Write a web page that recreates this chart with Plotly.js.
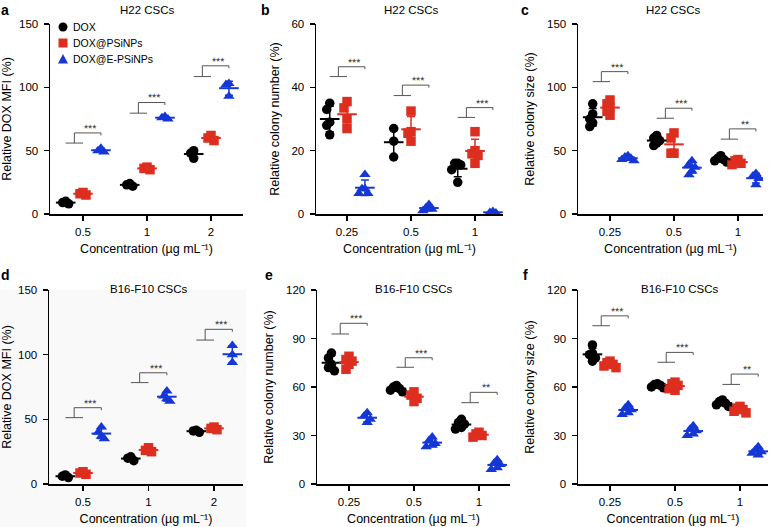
<!DOCTYPE html>
<html><head><meta charset="utf-8">
<script src="https://cdn.plot.ly/plotly-3.0.1.min.js"></script>
<style>html,body{margin:0;padding:0;background:#fff}#chart{width:772px;height:527px}</style>
</head><body><div id="chart"></div>
<script>
// ---------------- DATA ----------------
const seriesNames = ['DOX', 'DOX@PSiNPs', 'DOX@E-PSiNPs'];
const catsMFI = ['0.5', '1', '2'];
const catsColony = ['0.25', '0.5', '1'];

// a: H22 CSCs, Relative DOX MFI (%)
const a_DOX = [[8, 9, 10], [22, 23, 24], [44, 48, 50]];
const a_PSi = [[15, 16, 17], [35, 36, 37], [58, 60, 62]];
const a_E   = [[49, 50, 52], [75, 76, 77], [93, 102, 103]];
const a_brLow = [56, 79.6, 108.5];
const a_brHigh = [64, 88, 117];
const a_sig = ['***', '***', '***'];

// b: H22 CSCs, Relative colony number (%)
const b_DOX = [[33, 35, 29, 28, 25], [27, 23, 18], [16, 15.5, 16, 10, 14]];
const b_PSi = [[35.5, 33.5, 30, 27], [32.5, 26, 25.5, 23], [26, 20, 18.5, 16, 19]];
const b_E   = [[12.5, 8, 8, 6.5, 6.5], [3, 2, 1.5, 1], [0.8, 0.5, 0.3]];
const b_brLow = [43.4, 37.4, 30.5];
const b_brHigh = [46.5, 40.7, 33.6];
const b_sig = ['***', '***', '***'];

// c: H22 CSCs, Relative colony size (%)
const c_DOX = [[87, 79, 75, 72, 69], [62, 60, 58, 56, 54], [46, 44, 43, 42, 41]];
const c_PSi = [[90, 87, 84, 81, 78], [64, 60, 48, 48], [43, 42, 40, 39]];
const c_E   = [[46, 45, 44, 43, 42], [42, 39, 37, 34, 31], [32, 30, 28, 23]];
const c_brLow = [104.5, 75.6, 59.1];
const c_brHigh = [112.4, 83.5, 67.2];
const c_sig = ['***', '***', '**'];

// d: B16-F10 CSCs, Relative DOX MFI (%)
const d_DOX = [[5, 6, 7], [18, 20, 21], [40, 41, 41.5]];
const d_PSi = [[7.5, 8.5, 9.5], [25, 26, 28], [42, 43, 44]];
const d_E   = [[44, 40, 37, 35], [72, 68, 66, 64], [107, 100, 94]];
const d_brLow = [51.3, 78.4, 111.3];
const d_brHigh = [59, 86, 119.6];
const d_sig = ['***', '***', '***'];

// e: B16-F10 CSCs, Relative colony number (%)
const e_DOX = [[81, 78, 74, 72, 70], [61, 60, 59, 58, 57], [40, 38, 37, 35, 34]];
const e_PSi = [[79, 77, 76, 74, 71], [57, 55, 53, 51], [32, 31, 30, 29]];
const e_E   = [[44, 42, 40, 38], [29, 27, 25, 24, 23], [15, 13, 12, 10, 9]];
const e_brLow = [92.8, 72.2, 50.3];
const e_brHigh = [99.4, 78.1, 56.7];
const e_sig = ['***', '***', '**'];

// f: B16-F10 CSCs, Relative colony size (%)
const f_DOX = [[86, 81, 80, 78, 76], [62, 61.5, 61, 60, 59.5], [52, 51, 50, 49, 48]];
const f_PSi = [[76, 75, 74, 73, 72], [63, 62, 61, 59, 58], [48, 47, 46, 45, 44]];
const f_E   = [[49, 47, 46, 44, 43], [36, 34, 33, 31, 30], [23, 21, 20, 19, 18]];
const f_brLow = [97.9, 75.3, 61.6];
const f_brHigh = [104, 81.4, 68];
const f_sig = ['***', '***', '**'];

// ---------------- STYLE / LAYOUT ----------------
const W = 772, H = 527;
const FONT = 'Liberation Sans, Arial, Helvetica, sans-serif';
const colors = ['#000000', '#dd2e1f', '#1537d6'];
const symbols = ['circle', 'square', 'triangle-up'];
const offsets = [-0.27, 0, 0.28];
const xTitle = 'Concentration (µg mL⁻¹)';

const panels = [
  {letter: 'a', title: 'H22 CSCs', ytitle: 'Relative DOX MFI (%)', cats: catsMFI, series: [a_DOX, a_PSi, a_E], lo: a_brLow, hi: a_brHigh, sig: a_sig,
   yr: [0, 150], dtick: 50, x0: 50, x1: 243, t0: 83, t2: 211, yt: 24, yb: 214, titleX: 147, titleY: 10, letX: 5, letY: 10},
  {letter: 'b', title: 'H22 CSCs', ytitle: 'Relative colony number (%)', cats: catsColony, series: [b_DOX, b_PSi, b_E], lo: b_brLow, hi: b_brHigh, sig: b_sig,
   yr: [0, 60], dtick: 20, x0: 316, x1: 503, t0: 347, t2: 475, yt: 24, yb: 214, titleX: 411, titleY: 10, letX: 265, letY: 10},
  {letter: 'c', title: 'H22 CSCs', ytitle: 'Relative colony size (%)', cats: catsColony, series: [c_DOX, c_PSi, c_E], lo: c_brLow, hi: c_brHigh, sig: c_sig,
   yr: [0, 150], dtick: 50, x0: 578, x1: 763, t0: 610, t2: 738, yt: 24, yb: 214, titleX: 673, titleY: 10, letX: 525, letY: 10},
  {letter: 'd', title: 'B16-F10 CSCs', ytitle: 'Relative DOX MFI (%)', cats: catsMFI, series: [d_DOX, d_PSi, d_E], lo: d_brLow, hi: d_brHigh, sig: d_sig,
   yr: [0, 150], dtick: 50, x0: 49, x1: 243, t0: 83, t2: 214, yt: 290, yb: 484, titleX: 149, titleY: 289, letX: 5, letY: 275},
  {letter: 'e', title: 'B16-F10 CSCs', ytitle: 'Relative colony number (%)', cats: catsColony, series: [e_DOX, e_PSi, e_E], lo: e_brLow, hi: e_brHigh, sig: e_sig,
   yr: [0, 120], dtick: 30, x0: 317, x1: 510, t0: 349, t2: 479, yt: 290, yb: 484, titleX: 414, titleY: 289, letX: 269, letY: 275},
  {letter: 'f', title: 'B16-F10 CSCs', ytitle: 'Relative colony size (%)', cats: catsColony, series: [f_DOX, f_PSi, f_E], lo: f_brLow, hi: f_brHigh, sig: f_sig,
   yr: [0, 120], dtick: 30, x0: 578, x1: 768, t0: 610, t2: 740, yt: 290, yb: 484, titleX: 680, titleY: 289, letX: 525, letY: 275}
];

const mean = a => a.reduce((s, v) => s + v, 0) / a.length;
const sd = a => { const m = mean(a); return Math.sqrt(a.reduce((s, v) => s + (v - m) * (v - m), 0) / (a.length - 1)); };

// Prism-like horizontal spreading of overlapping points (returns offsets in category units)
function spread(vals, sx, sy) {
  const idx = vals.map((v, i) => i).sort((p, q) => vals[q] - vals[p]);
  const placed = [];
  const out = new Array(vals.length).fill(0);
  const step = 3, D = 7;
  for (const i of idx) {
    const ypx = vals[i] * sy;
    for (let k = 0; k < 11; k++) {
      const slot = k === 0 ? 0 : (k % 2 ? -Math.ceil(k / 2) : Math.ceil(k / 2));
      if (placed.every(p => p.slot !== slot || Math.abs(p.y - ypx) >= D)) {
        placed.push({slot: slot, y: ypx});
        out[i] = slot * step / sx;
        break;
      }
    }
  }
  return out;
}

const traces = [];
const layout = {
  width: W, height: H, margin: {l: 0, r: 0, t: 0, b: 0},
  paper_bgcolor: '#ffffff', plot_bgcolor: 'rgba(0,0,0,0)',
  showlegend: false, font: {family: FONT, color: '#000', size: 11.5},
  shapes: [], annotations: []
};

// faint background of panel d
layout.shapes.push({type: 'rect', xref: 'paper', yref: 'paper', x0: 0, x1: 246 / W, y0: 0, y1: 1 - 290 / H,
  fillcolor: '#f9f9f9', line: {width: 0}, layer: 'below'});

panels.forEach((p, i) => {
  const n = i === 0 ? '' : String(i + 1);
  const xa = 'x' + n, ya = 'y' + n;
  const sp = (p.t2 - p.t0) / 2;
  const sx = sp;
  const sy = (p.yb - p.yt) / (p.yr[1] - p.yr[0]);
  layout['xaxis' + n] = {
    domain: [p.x0 / W, p.x1 / W], range: [(p.x0 - p.t0) / sp, (p.x1 - p.t0) / sp], anchor: ya,
    tickvals: [0, 1, 2], ticktext: p.cats, ticks: 'outside', ticklen: 5, tickwidth: 1.5, tickcolor: '#000',
    showline: true, linewidth: 1.5, linecolor: '#000', showgrid: false, zeroline: false,
    tickfont: {size: 11.5, family: FONT}, ticklabelstandoff: 2,
    title: {text: xTitle, font: {size: 12.5, family: FONT}, standoff: 7}
  };
  layout['yaxis' + n] = {
    domain: [1 - p.yb / H, 1 - p.yt / H], range: p.yr, anchor: xa, tick0: 0, dtick: p.dtick,
    ticks: 'outside', ticklen: 5, tickwidth: 1.5, tickcolor: '#000',
    showline: true, linewidth: 1.5, linecolor: '#000', showgrid: false, zeroline: false,
    tickfont: {size: 11.5, family: FONT}, ticklabelstandoff: 3,
    title: {text: p.ytitle, font: {size: 12.5, family: FONT}, standoff: 9}
  };

  // points
  p.series.forEach((groups, s) => {
    const xs = [], ys = [];
    groups.forEach((vals, g) => {
      const jit = spread(vals, sx, sy);
      vals.forEach((v, k) => { xs.push(g + offsets[s] + jit[k]); ys.push(v); });
    });
    traces.push({type: 'scatter', mode: 'markers', x: xs, y: ys, xaxis: xa, yaxis: ya,
      name: seriesNames[s], hoverinfo: 'y',
      marker: {symbol: symbols[s], color: colors[s], size: s === 2 ? 10 : 9.5, line: {width: 0}}});
  });
  // mean ± SD
  p.series.forEach((groups, s) => {
    traces.push({type: 'scatter', mode: 'markers', xaxis: xa, yaxis: ya, name: seriesNames[s] + ' mean',
      x: groups.map((v, g) => g + offsets[s]), y: groups.map(mean), hoverinfo: 'y',
      marker: {symbol: 'line-ew', size: 14, color: colors[s], line: {width: 2, color: colors[s]}},
      error_y: {type: 'data', array: groups.map(sd), visible: true, width: 4, thickness: 1.5, color: colors[s]}});
  });
  // significance brackets
  const tick = 2.5 / sy;
  p.lo.forEach((h1, g) => {
    const h2 = p.hi[g];
    const xL = g + offsets[0], xM0 = g + offsets[1], xm = g + (offsets[0] + offsets[1]) / 2, xR = g + offsets[2];
    layout.shapes.push({type: 'path', xref: xa, yref: ya, layer: 'above',
      path: `M${xL},${h1} L${xM0},${h1} M${xm},${h1} L${xm},${h2} L${xR},${h2} L${xR},${h2 - tick}`,
      line: {color: '#555', width: 1}});
    layout.annotations.push({xref: xa, yref: ya, x: (xm + xR) / 2 + 0.04, y: h2, text: p.sig[g], showarrow: false,
      xanchor: 'center', yanchor: 'bottom', yshift: -3, textangle: 0.6,
      font: {size: 10.5, family: FONT, color: '#333333'}});
  });
  // panel title and letter
  layout.annotations.push({xref: 'paper', yref: 'paper', x: p.titleX / W, y: 1 - p.titleY / H, text: p.title,
    showarrow: false, xanchor: 'center', yanchor: 'middle', font: {size: 11.5, family: FONT}});
  layout.annotations.push({xref: 'paper', yref: 'paper', x: p.letX / W, y: 1 - p.letY / H, text: p.letter,
    showarrow: false, xanchor: 'center', yanchor: 'middle', font: {size: 14, family: FONT, weight: 'bold'}});
});

// legend (panel a, top-left inside plot)
const legY = [27, 43, 59];
const lx = 63, r = 4.5;
layout.shapes.push({type: 'circle', xref: 'paper', yref: 'paper', x0: (lx - r) / W, x1: (lx + r) / W,
  y0: 1 - (legY[0] + r) / H, y1: 1 - (legY[0] - r) / H, fillcolor: colors[0], line: {width: 0}});
layout.shapes.push({type: 'rect', xref: 'paper', yref: 'paper', x0: (lx - r) / W, x1: (lx + r) / W,
  y0: 1 - (legY[1] + r) / H, y1: 1 - (legY[1] - r) / H, fillcolor: colors[1], line: {width: 0}});
layout.shapes.push({type: 'path', xref: 'paper', yref: 'paper',
  path: `M${(lx - r - 0.5) / W},${1 - (legY[2] + r) / H} L${(lx + r + 0.5) / W},${1 - (legY[2] + r) / H} L${lx / W},${1 - (legY[2] - r - 0.5) / H} Z`,
  fillcolor: colors[2], line: {width: 0}});
seriesNames.forEach((nm, s) => {
  layout.annotations.push({xref: 'paper', yref: 'paper', x: 71 / W, y: 1 - legY[s] / H, text: nm, showarrow: false,
    xanchor: 'left', yanchor: 'middle', font: {size: 10.5, family: FONT}});
});

Plotly.newPlot('chart', traces, layout, {displayModeBar: false, staticPlot: true});
</script>
</body></html>
